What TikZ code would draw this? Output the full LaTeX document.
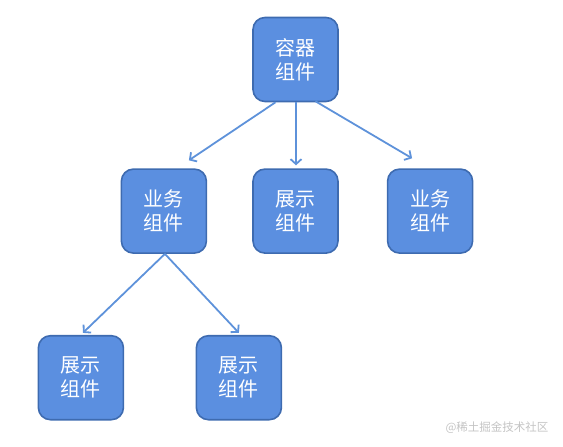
\documentclass[tikz,border=0pt]{standalone}
\usepackage{fontspec}
\setmainfont{Noto Sans CJK SC}
\usepackage{tikz}
\usetikzlibrary{arrows.meta,positioning}
\definecolor{boxfill}{HTML}{5B8FE0}
\definecolor{boxline}{HTML}{3E6BB0}
\definecolor{linkblue}{HTML}{5E92DA}
\definecolor{markgray}{HTML}{C4C4C4}

\begin{document}
\begin{tikzpicture}[font=\fontsize{20}{24}\selectfont]
    \tikzstyle{comp}=[draw=boxline,line width=1.6pt,fill=boxfill,rounded corners=12pt,minimum width=85pt,minimum height=84pt,inner sep=0pt,align=center,text=white]
    \tikzstyle{link}=[draw=linkblue,line width=1.8pt,-{Straight Barb[length=5pt,width=11pt]}]
    \useasboundingbox (0,0) rectangle (563pt,-447pt);
    \node[comp] (box) at (295.5pt,-59.5pt) {容器\\组件};
    \node[comp,below=66pt of box]        (viewM) {展示\\组件};
    \node[comp,left=45pt of viewM]       (bizL)  {业务\\组件};
    \node[comp,right=48pt of viewM]      (bizR)  {业务\\组件};
    \node[comp,below=81pt of bizL,xshift=-83pt]  (viewL) {展示\\组件};
    \node[comp,below=81pt of bizL,xshift=75pt]   (viewR) {展示\\组件};
    \draw[link] ([xshift=-20pt]box.south) -- ([xshift=25pt,yshift=8pt]bizL.north);
    \draw[link] ([xshift=0.5pt]box.south) -- ([xshift=0.5pt,yshift=3pt]viewM.north);
    \draw[link] ([xshift=20pt,yshift=1pt]box.south) -- ([xshift=-18pt,yshift=10pt]bizR.north);
    \draw[link] ([xshift=1pt]bizL.south) -- ([xshift=2pt,yshift=2pt]viewL.north);
    \draw[link] ([xshift=1pt]bizL.south) -- ([xshift=0pt,yshift=2pt]viewR.north);
    \node[font=\fontsize{11.5}{13}\selectfont,text=markgray] (mark) at (497pt,-428pt) {@稀土掘金技术社区};
  \end{tikzpicture}
\end{document}
